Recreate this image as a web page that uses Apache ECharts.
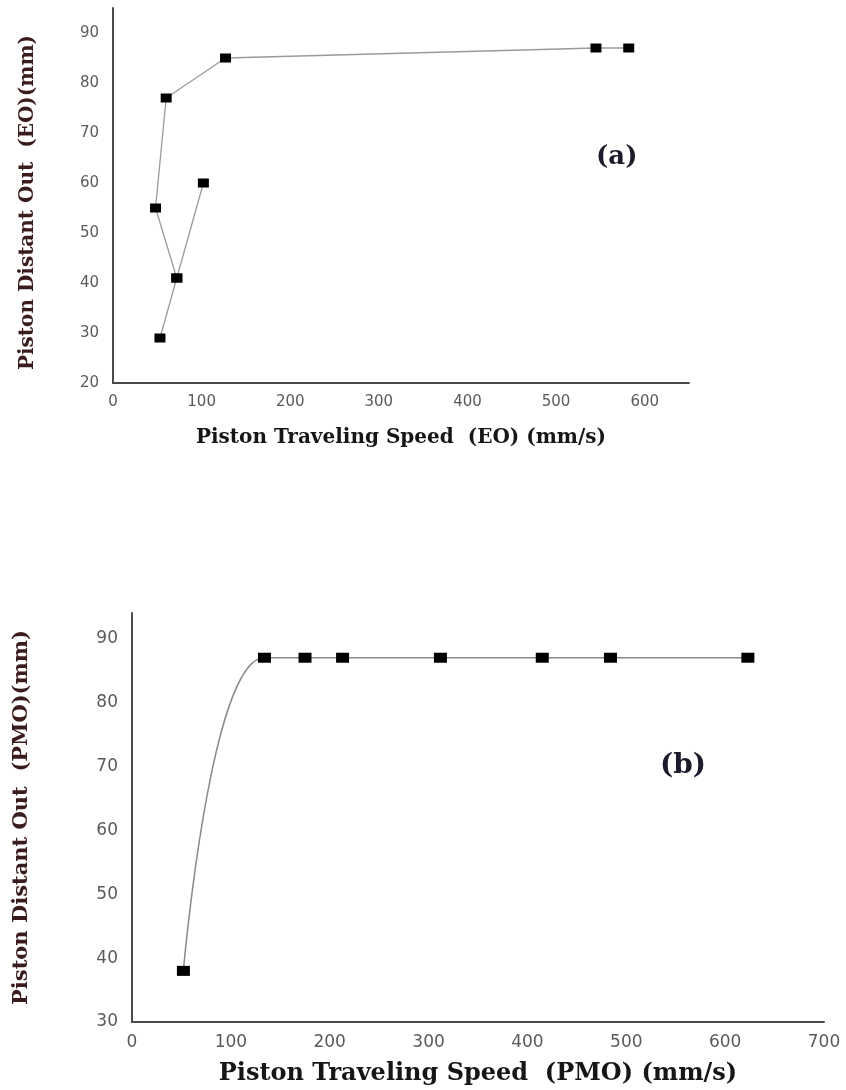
<!DOCTYPE html>
<html>
<head>
<meta charset="utf-8">
<script src="https://cdn.jsdelivr.net/npm/echarts@6/dist/echarts.min.js"></script>
<style>
html,body{margin:0;padding:0;background:#fff;}
#chart{width:846px;height:1090px;}
</style>
</head>
<body>
<div id="chart"></div>
<script>
// Panel (a): EO
const speedA1 = [53, 72, 102];
const distA1 = [29, 41, 60];
const speedA2 = [72, 48, 60, 127, 545, 582];
const distA2 = [41, 55, 77, 85, 87, 87];
// Panel (b): PMO
const speedB = [52, 134, 175, 213, 312, 415, 484, 623];
const distB = [38, 87, 87, 87, 87, 87, 87, 87];

const xTicksA = [0, 100, 200, 300, 400, 500, 600];
const yTicksA = [20, 30, 40, 50, 60, 70, 80, 90];
const xTicksB = [0, 100, 200, 300, 400, 500, 600, 700];
const yTicksB = [30, 40, 50, 60, 70, 80, 90];

const zip = (xs, ys) => xs.map((x, i) => [x, ys[i]]);

const titleFont = 'DejaVu Serif';
const tickFont = 'DejaVu Sans';

function yAxisCfg(gridIndex, min, max, ticks, name, nameSize, nameGap, labelSize, namePad) {
  return {
    type: 'value', gridIndex, min, max, interval: 10,
    name, nameLocation: 'middle', nameGap,
    nameTextStyle: { fontFamily: titleFont, fontWeight: 'bold', fontSize: nameSize, color: '#3b1c1c', padding: namePad },
    axisLine: { show: true, lineStyle: { color: '#4a4a4a', width: 2 } },
    axisTick: { show: false },
    splitLine: { show: false },
    axisLabel: {
      margin: 14, fontFamily: tickFont, fontSize: labelSize, color: '#5a5a5a',
      formatter: v => ticks.includes(v) ? String(v) : ''
    }
  };
}
function xAxisCfg(gridIndex, min, max, ticks, name, nameSize, nameGap, labelSize) {
  return {
    type: 'value', gridIndex, min, max, interval: 100,
    name, nameLocation: 'middle', nameGap,
    nameTextStyle: { fontFamily: titleFont, fontWeight: 'bold', fontSize: nameSize, color: '#161616' },
    axisLine: { show: true, lineStyle: { color: '#4a4a4a', width: 2 } },
    axisTick: { show: false },
    splitLine: { show: false },
    axisLabel: {
      margin: 12, fontFamily: tickFont, fontSize: labelSize, color: '#5a5a5a',
      formatter: v => ticks.includes(v) ? String(v) : ''
    }
  };
}

const chart = echarts.init(document.getElementById('chart'), null, { renderer: 'canvas' });
chart.setOption({
  backgroundColor: '#ffffff',
  animation: false,
  title: [
    { text: '(a)', left: 591, top: 139,
      textStyle: { fontFamily: titleFont, fontWeight: 'bold', fontSize: 26, color: '#1b1b2b' } },
    { text: '(b)', left: 655, top: 747,
      textStyle: { fontFamily: titleFont, fontWeight: 'bold', fontSize: 28, color: '#1b1b2b' } }
  ],
  grid: [
    { left: 113, top: 8, width: 576, height: 375 },
    { left: 132, top: 613, width: 692, height: 409 }
  ],
  xAxis: [
    xAxisCfg(0, 0, 650, xTicksA, 'Piston Traveling Speed  (EO) (mm/s)', 20, 45, 15),
    xAxisCfg(1, 0, 700, xTicksB, 'Piston Traveling Speed  (PMO) (mm/s)', 24, 40, 17)
  ],
  yAxis: [
    yAxisCfg(0, 20, 95, yTicksA, 'Piston Distant Out  (EO)(mm)', 20, 75, 15, [0, 14, 0, 0]),
    yAxisCfg(1, 30, 94, yTicksB, 'Piston Distant Out  (PMO)(mm)', 21, 100, 17, [0, 0, 0, 0])
  ],
  series: [
    { type: 'line', xAxisIndex: 0, yAxisIndex: 0, data: zip(speedA1, distA1),
      symbol: 'rect', symbolSize: [11, 9], itemStyle: { color: '#000' },
      lineStyle: { color: '#9a9a9a', width: 1.3 } },
    { type: 'line', xAxisIndex: 0, yAxisIndex: 0, data: zip(speedA2, distA2),
      symbol: 'rect', symbolSize: [11, 9], itemStyle: { color: '#000' },
      lineStyle: { color: '#9a9a9a', width: 1.3 } },
    { type: 'line', xAxisIndex: 1, yAxisIndex: 1, data: zip(speedB, distB),
      smooth: 0.5,
      symbol: 'rect', symbolSize: [13, 10], itemStyle: { color: '#000' },
      lineStyle: { color: '#8a8a8a', width: 1.5 } }
  ]
});
</script>
</body>
</html>
